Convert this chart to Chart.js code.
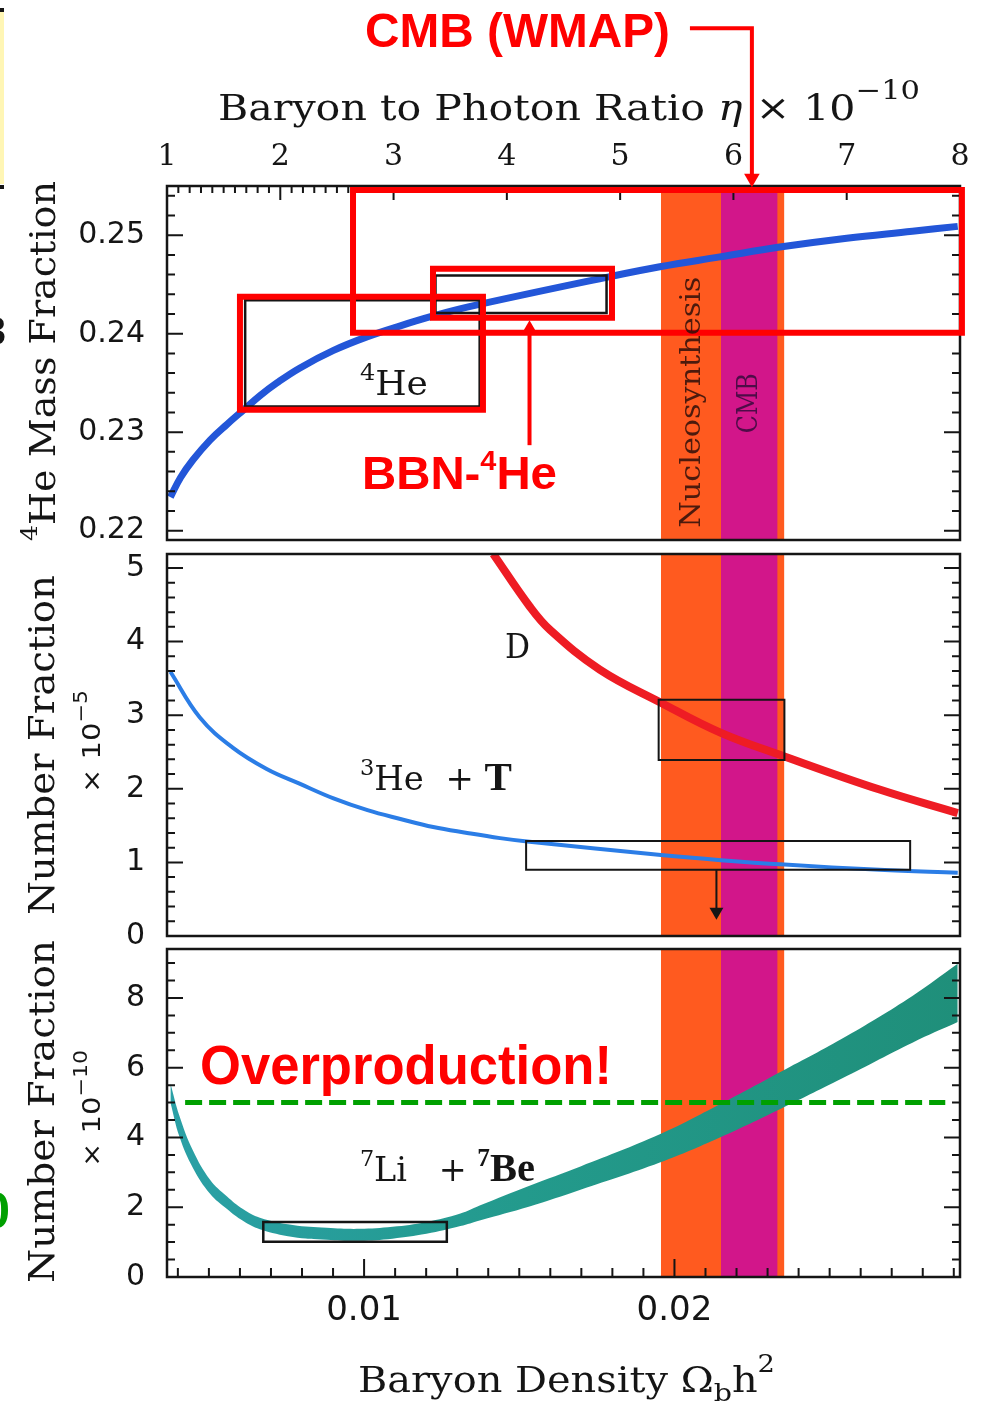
<!DOCTYPE html>
<html>
<head>
<meta charset="utf-8">
<title>BBN abundances</title>
<script src="https://cdn.jsdelivr.net/npm/chart.js@4.4.1/dist/chart.umd.min.js"></script>
<style>
  html, body { margin: 0; padding: 0; background: #fff; }
  #wrap { position: relative; width: 983px; height: 1403px; overflow: hidden; }
  #wrap canvas { position: absolute; left: 0; top: 0; }
</style>
</head>
<body>
<div id="wrap">
  <canvas id="he4-chart" width="983" height="1403"></canvas>
  <canvas id="dhe3-chart" width="983" height="1403"></canvas>
  <canvas id="li7-chart" width="983" height="1403"></canvas>
</div>
<script>
"use strict";

// top axis: baryon to photon ratio eta (x 1e-10), bottom axis: Omega_b h^2
var etaMin = 1, etaMax = 8;
var omegaMin = 0.00365, omegaMax = 0.0292;
var etaTicks = [1, 2, 3, 4, 5, 6, 7, 8];
var omegaTicks = [0.01, 0.02];

// 4He mass fraction
var he4Eta = [1.03, 1.12, 1.23, 1.38, 1.53, 1.68, 1.82, 1.97, 2.17, 2.47, 2.77, 3.06, 3.35, 3.65, 4.91, 5.35, 5.88, 6.41, 7.00, 7.58, 7.98];
var he4Val = [0.2234, 0.2254, 0.2272, 0.2292, 0.2308, 0.2323, 0.2337, 0.2350, 0.2365, 0.2383, 0.2397, 0.2408, 0.2418, 0.2427, 0.2458, 0.2468, 0.2478, 0.2488, 0.2497, 0.2504, 0.2509];
var he4Min = 0.21905, he4Max = 0.2550;
var he4Ticks = [0.22, 0.23, 0.24, 0.25];

// D and 3He+T number fraction (x 1e-5)
var dEta = [3.88, 4.20, 4.38, 4.82, 5.36, 5.89, 6.45, 7.29, 7.98];
var dVal = [5.19, 4.48, 4.16, 3.62, 3.17, 2.76, 2.44, 1.99, 1.67];
var he3Eta = [1.03, 1.29, 1.58, 1.88, 2.17, 2.47, 2.77, 3.06, 3.35, 3.65, 3.94, 4.20, 5.36, 5.89, 6.45, 7.29, 7.98];
var he3Val = [3.59, 2.97, 2.56, 2.27, 2.07, 1.87, 1.71, 1.59, 1.48, 1.40, 1.33, 1.28, 1.10, 1.03, 0.97, 0.90, 0.86];
var nfMin = 0, nfMax = 5.19;
var nfTicks = [0, 1, 2, 3, 4, 5];

// 7Li + 7Be band (x 1e-10), upper and lower edge
var liEta = [1.03, 1.11, 1.23, 1.38, 1.53, 1.67, 1.82, 2.11, 2.41, 2.70, 2.99, 3.29, 3.59, 3.76, 4.20, 4.65, 5.35, 5.88, 6.41, 7.00, 7.58, 7.98];
var liHigh = [5.55, 4.62, 3.62, 2.79, 2.31, 1.95, 1.70, 1.49, 1.41, 1.38, 1.44, 1.58, 1.82, 2.05, 2.62, 3.17, 4.09, 4.95, 5.87, 6.91, 8.06, 8.98];
var liLow = [5.00, 4.02, 3.12, 2.39, 1.95, 1.61, 1.37, 1.15, 1.07, 1.04, 1.10, 1.24, 1.46, 1.62, 2.02, 2.50, 3.28, 4.00, 4.81, 5.76, 6.72, 7.31];
var liMin = 0, liMax = 9.405;
var liTicks = [0, 2, 4, 6, 8];
var liLimit = 5.0, liLimitEta = [1.16, 7.87];

// vertical bands (eta range)
var nucleoBand = [5.36, 6.45];
var cmbBand = [5.89, 6.39];

// observation boxes [eta0, eta1, y0, y1]
var he4BoxA = [1.69, 3.76, 0.2326, 0.2434];
var he4BoxB = [3.37, 4.88, 0.2421, 0.2459];
var dBox = [5.34, 6.45, 2.39, 3.21];
var he3Box = [4.17, 7.56, 0.90, 1.29];
var he3Arrow = [5.85, 0.90, 0.33];
var liBox = [1.85, 3.47, 1.01, 1.58];

// red annotations on the top panel
var redBoxWide = [2.642, 8.017, 0.24009, 0.2546];
var redBoxMid = [3.348, 4.928, 0.24162, 0.2466];
var redBoxLow = [1.644, 3.789, 0.23227, 0.24375];
var bbnArrow = [4.20, 0.22868, 0.2401, 0.24046];
var cmbArrowX = [5.616, 6.163], cmbArrowY = [0.27102, 0.2561, 0.25579];

var SERIF = "'DejaVu Serif', serif";
var SANS = "'DejaVu Sans', sans-serif";
var TIMES = "'Liberation Serif', serif";
var ARIAL = "'Liberation Sans', Arial, sans-serif";
var INK = '#151515';
var RED = '#FF0000';
var ORANGE = '#FF5A1F';
var MAGENTA = '#D2168A';
var SMOOTH = 0.4;

Chart.defaults.font.family = SANS;
Chart.defaults.color = INK;

function f(size, family, style) {
    return (style ? style + ' ' : '') + size + 'px ' + family;
}

function xy(xs, ys) {
    return xs.map(function (x, i) { return { x: x, y: ys[i] }; });
}

function boxPath(b) {
    return [{ x: b[0], y: b[2] }, { x: b[1], y: b[2] }, { x: b[1], y: b[3] }, { x: b[0], y: b[3] }, { x: b[0], y: b[2] }];
}

function lineSet(data, color, width, extra) {
    var ds = { data: data, borderColor: color, borderWidth: width, pointRadius: 0, fill: false, tension: 0 };
    for (var k in extra) ds[k] = extra[k];
    return ds;
}

function boxSet(b, color, width, extra) {
    var ds = lineSet(boxPath(b), color, width, { borderJoinStyle: 'miter', borderCapStyle: 'square' });
    for (var k in extra) ds[k] = extra[k];
    return ds;
}

function bandSet(range, top, color, order) {
    return lineSet([{ x: range[0], y: top }, { x: range[1], y: top }], color, 0,
        { fill: 'start', backgroundColor: color, order: order });
}

function headSet(x, y, rot, color, r) {
    return { data: [{ x: x, y: y }], showLine: false, pointStyle: 'triangle', pointRadius: r,
        pointRotation: rot, pointBackgroundColor: color, pointBorderWidth: 0, clip: false, order: -2 };
}

function fixedTicks(list) {
    return function (s) { s.ticks = list.map(function (v) { return { value: v }; }); };
}

// text made of pieces (superscripts, mixed fonts), squeezed to a given width
function drawRich(ctx, parts, o) {
    ctx.save();
    ctx.fillStyle = o.color || INK;
    ctx.textAlign = 'left';
    ctx.textBaseline = 'alphabetic';
    var total = 0, ws = [];
    parts.forEach(function (p) {
        ctx.font = p[1];
        var w = ctx.measureText(p[0]).width;
        ws.push(w);
        total += w;
    });
    ctx.translate(o.x, o.y);
    if (o.rotate) ctx.rotate(o.rotate);
    ctx.scale(o.width ? o.width / total : 1, 1);
    var cx = o.align === 'center' ? -total / 2 : 0;
    parts.forEach(function (p, i) {
        ctx.font = p[1];
        ctx.fillText(p[0], cx, p[2] || 0);
        cx += ws[i];
    });
    ctx.restore();
}

function tickValues(min, max, step) {
    var out = [];
    for (var n = Math.ceil(min / step - 1e-6); n <= Math.floor(max / step + 1e-6); n++) out.push(n * step);
    return out;
}

function isMajor(v, major) {
    var r = v / major;
    return Math.abs(r - Math.round(r)) < 1e-6;
}

function drawFrame(chart, opts) {
    var a = chart.chartArea, ctx = chart.ctx;
    ctx.save();
    ctx.strokeStyle = INK;
    ctx.lineWidth = 2;
    ctx.beginPath();
    var ys = chart.scales[opts.y.id];
    tickValues(ys.min, ys.max, opts.y.minor).forEach(function (v) {
        var p = ys.getPixelForValue(v);
        var len = isMajor(v, opts.y.major) ? 16 : 8;
        ctx.moveTo(a.left, p); ctx.lineTo(a.left + len, p);
        ctx.moveTo(a.right, p); ctx.lineTo(a.right - len, p);
    });
    ['top', 'bottom'].forEach(function (side) {
        var o = opts[side];
        if (!o) return;
        var xs = chart.scales[o.id];
        var y0 = side === 'top' ? a.top : a.bottom, dir = side === 'top' ? 1 : -1;
        tickValues(xs.min, xs.max, o.minor).forEach(function (v) {
            var p = xs.getPixelForValue(v);
            var len = isMajor(v, o.major) ? o.long : o.short;
            ctx.moveTo(p, y0); ctx.lineTo(p, y0 + dir * len);
        });
    });
    ctx.stroke();
    ctx.lineWidth = 2.5;
    ctx.strokeRect(a.left, a.top, a.right - a.left, a.bottom - a.top);
    ctx.restore();
}

// frame + inward ticks, drawn under the red annotations
var framePlugin = {
    id: 'frame',
    beforeDatasetsDraw: function (chart) { chart.$frameDone = false; },
    beforeDatasetDraw: function (chart, args, opts) {
        if (!chart.$frameDone && args.meta.order < 0) {
            drawFrame(chart, opts);
            chart.$frameDone = true;
        }
    },
    afterDatasetsDraw: function (chart, args, opts) {
        if (!chart.$frameDone) drawFrame(chart, opts);
    }
};

function baseOptions(padding, scales, frame) {
    return {
        responsive: false,
        animation: false,
        devicePixelRatio: 1,
        events: [],
        layout: { padding: padding },
        plugins: { legend: { display: false }, tooltip: { enabled: false }, frame: frame },
        scales: scales
    };
}

function hiddenEta() {
    return { type: 'linear', min: etaMin, max: etaMax, display: false };
}

function yAxis(min, max, list, fmt) {
    return {
        type: 'linear', position: 'left', min: min, max: max,
        afterBuildTicks: fixedTicks(list),
        afterFit: function (s) { s.width = 167; },
        grid: { display: false, drawTicks: false },
        border: { display: false },
        ticks: { font: { family: SANS, size: 30 }, color: INK, padding: 22, callback: fmt }
    };
}

//start 4He panel
new Chart(document.getElementById('he4-chart'), {
    type: 'line',
    data: {
        datasets: [
            boxSet(redBoxWide, RED, 6, { order: -1, clip: false }),
            boxSet(redBoxMid, RED, 6, { order: -1, clip: false }),
            boxSet(redBoxLow, RED, 6, { order: -1, clip: false }),
            lineSet([{ x: bbnArrow[0], y: bbnArrow[1] }, { x: bbnArrow[0], y: bbnArrow[2] }], RED, 4, { order: -1, clip: false }),
            headSet(bbnArrow[0], bbnArrow[3], 0, RED, 9),
            lineSet([{ x: cmbArrowX[0], y: cmbArrowY[0] }, { x: cmbArrowX[1], y: cmbArrowY[0] }, { x: cmbArrowX[1], y: cmbArrowY[1] }],
                RED, 4, { order: -1, clip: false, borderJoinStyle: 'miter' }),
            headSet(cmbArrowX[1], cmbArrowY[2], 180, RED, 9),
            boxSet(he4BoxA, INK, 2.5, { order: 1 }),
            boxSet(he4BoxB, INK, 2.5, { order: 1 }),
            lineSet(xy(he4Eta, he4Val), '#2356D8', 7, { tension: SMOOTH, order: 2 }),
            bandSet(cmbBand, he4Max, MAGENTA, 9),
            bandSet(nucleoBand, he4Max, ORANGE, 10)
        ]
    },
    options: baseOptions({ top: 126, right: 23, bottom: 863, left: 0 }, {
        x: {
            type: 'linear', position: 'top', min: etaMin, max: etaMax,
            afterBuildTicks: fixedTicks(etaTicks),
            afterFit: function (s) { s.height = 60; },
            grid: { display: false, drawTicks: false },
            border: { display: false },
            ticks: { font: { family: SERIF, size: 30 }, color: INK, padding: 11, maxRotation: 0 }
        },
        y: yAxis(he4Min, he4Max, he4Ticks, function (v) { return v.toFixed(2); })
    }, {
        y: { id: 'y', minor: 0.002, major: 0.01 },
        top: { id: 'x', minor: 0.1, major: 1, long: 14, short: 7 }
    }),
    plugins: [framePlugin, {
        id: 'he4Text',
        afterDraw: function (chart) {
            var ctx = chart.ctx, sx = chart.scales.x, sy = chart.scales.y;
            var px = function (v) { return sx.getPixelForValue(v); };
            var py = function (v) { return sy.getPixelForValue(v); };
            drawRich(ctx, [['Baryon to Photon Ratio ', f(35, SERIF)], ['η', f(35, SERIF, 'italic')],
                [' × 10', f(35, SERIF)], ['−10', f(26, SERIF), -21]], { x: 218, y: 120, width: 702 });
            drawRich(ctx, [['4', f(23, SERIF), -18], ['He Mass Fraction', f(35, SERIF)]],
                { x: 55, y: 541, rotate: -Math.PI / 2, width: 360 });
            drawRich(ctx, [['4', f(22, SERIF), -15], ['He', f(33, SERIF)]], { x: px(2.703), y: py(0.23376), width: 68 });
            drawRich(ctx, [['Nucleosynthesis', f(28, SERIF)]],
                { x: px(5.704), y: py(0.23305), rotate: -Math.PI / 2, align: 'center', width: 251, color: 'rgba(45,15,10,0.85)' });
            drawRich(ctx, [['CMB', f(28, SERIF)]],
                { x: px(6.207), y: py(0.23294), rotate: -Math.PI / 2, align: 'center', width: 60, color: 'rgba(55,10,60,0.85)' });
            drawRich(ctx, [['CMB (WMAP)', f(48, ARIAL, 'bold')]], { x: px(2.748), y: py(0.26909), width: 305, color: RED });
            drawRich(ctx, [['BBN-', f(46, ARIAL, 'bold')], ['4', f(28, ARIAL, 'bold'), -19], ['He', f(46, ARIAL, 'bold')]],
                { x: px(2.721), y: py(0.22421), width: 195, color: RED });
            // cropped slide remains on the left edge
            ctx.save();
            ctx.fillStyle = '#FFF6B5';
            ctx.fillRect(0, 12, 4, 172);
            ctx.fillStyle = INK;
            ctx.fillRect(0, 8, 4, 4);
            ctx.fillRect(0, 185, 4, 4);
            ctx.font = f(40, ARIAL, 'bold');
            ctx.textAlign = 'right';
            ctx.fillText('3', 6, 345);
            ctx.restore();
        }
    }]
});
//end 4He panel

//start D / 3He panel
new Chart(document.getElementById('dhe3-chart'), {
    type: 'line',
    data: {
        datasets: [
            lineSet([{ x: he3Arrow[0], y: he3Arrow[1] }, { x: he3Arrow[0], y: he3Arrow[2] }], INK, 2, { order: 0 }),
            headSet(he3Arrow[0], he3Arrow[2], 180, INK, 8),
            boxSet(dBox, INK, 2, { order: 1 }),
            boxSet(he3Box, INK, 2, { order: 1 }),
            lineSet(xy(dEta, dVal), '#EE1C24', 8, { tension: SMOOTH, order: 2 }),
            lineSet(xy(he3Eta, he3Val), '#2B7DE6', 4, { tension: SMOOTH, order: 2 }),
            bandSet(cmbBand, nfMax, MAGENTA, 9),
            bandSet(nucleoBand, nfMax, ORANGE, 10)
        ]
    },
    options: baseOptions({ top: 554, right: 23, bottom: 467, left: 0 }, {
        x: hiddenEta(),
        y: yAxis(nfMin, nfMax, nfTicks, function (v) { return String(v); })
    }, {
        y: { id: 'y', minor: 0.2, major: 1 }
    }),
    plugins: [framePlugin, {
        id: 'dText',
        afterDraw: function (chart) {
            var ctx = chart.ctx, sx = chart.scales.x, sy = chart.scales.y;
            var px = function (v) { return sx.getPixelForValue(v); };
            var py = function (v) { return sy.getPixelForValue(v); };
            drawRich(ctx, [['Number Fraction', f(35, SERIF)]], { x: 54, y: 915, rotate: -Math.PI / 2, width: 340 });
            drawRich(ctx, [['× 10', f(25, SANS)], ['−5', f(19, SANS), -13]], { x: 100, y: 793, rotate: -Math.PI / 2, width: 103 });
            drawRich(ctx, [['D', f(33, SERIF)]], { x: px(3.983), y: py(3.782), width: 25 });
            drawRich(ctx, [['3', f(22, SERIF), -15], ['He', f(33, SERIF)], ['  + ', f(33, SERIF)], ['T', f(40, TIMES, 'bold')]],
                { x: px(2.703), y: py(1.986), width: 152 });
        }
    }]
});
//end D / 3He panel

//start 7Li panel
new Chart(document.getElementById('li7-chart'), {
    type: 'line',
    data: {
        datasets: [
            lineSet([{ x: liLimitEta[0], y: liLimit }, { x: liLimitEta[1], y: liLimit }], '#00A000', 5,
                { borderDash: [17, 7], order: -1 }),
            boxSet(liBox, INK, 2.5, { order: 1 }),
            lineSet(xy(liEta, liHigh), 'rgba(0,0,0,0)', 0, {
                tension: SMOOTH, order: 2, fill: '+1',
                backgroundColor: function (c) {
                    var a = c.chart.chartArea;
                    if (!a) return '#22988C';
                    var g = c.chart.ctx.createLinearGradient(a.left, 0, a.right, 0);
                    g.addColorStop(0, '#2AA0A6');
                    g.addColorStop(0.45, '#239A8C');
                    g.addColorStop(1, '#1F8F7A');
                    return g;
                }
            }),
            lineSet(xy(liEta, liLow), 'rgba(0,0,0,0)', 0, { tension: SMOOTH, order: 2 }),
            bandSet(cmbBand, liMax, MAGENTA, 9),
            bandSet(nucleoBand, liMax, ORANGE, 10)
        ]
    },
    options: baseOptions({ top: 949, right: 23, bottom: 66, left: 0 }, {
        x: hiddenEta(),
        xo: {
            type: 'linear', position: 'bottom', min: omegaMin, max: omegaMax,
            afterBuildTicks: fixedTicks(omegaTicks),
            afterFit: function (s) { s.height = 60; },
            grid: { display: false, drawTicks: false },
            border: { display: false },
            ticks: { font: { family: SANS, size: 34 }, color: INK, padding: 14, maxRotation: 0,
                callback: function (v) { return v.toFixed(2); } }
        },
        y: yAxis(liMin, liMax, liTicks, function (v) { return String(v); })
    }, {
        y: { id: 'y', minor: 0.5, major: 2 },
        bottom: { id: 'xo', minor: 0.001, major: 0.01, long: 18, short: 9 }
    }),
    plugins: [framePlugin, {
        id: 'liText',
        afterDraw: function (chart) {
            var ctx = chart.ctx, sx = chart.scales.x, sy = chart.scales.y;
            var px = function (v) { return sx.getPixelForValue(v); };
            var py = function (v) { return sy.getPixelForValue(v); };
            drawRich(ctx, [['Number Fraction', f(35, SERIF)]], { x: 54, y: 1283, rotate: -Math.PI / 2, width: 343 });
            drawRich(ctx, [['× 10', f(25, SANS)], ['−10', f(19, SANS), -13]], { x: 100, y: 1167, rotate: -Math.PI / 2, width: 117 });
            drawRich(ctx, [['Baryon Density Ω', f(35, SERIF)], ['b', f(25, SERIF), 9], ['h', f(35, SERIF)], ['2', f(24, SERIF), -20]],
                { x: 358, y: 1392, width: 417 });
            drawRich(ctx, [['7', f(22, SERIF), -15], ['Li', f(33, SERIF)], ['   + ', f(33, SERIF)],
                ['7', f(25, TIMES, 'bold'), -15], ['Be', f(40, TIMES, 'bold')]], { x: px(2.703), y: py(2.763), width: 175 });
            drawRich(ctx, [['Overproduction!', f(55, ARIAL, 'bold')]], { x: px(1.291), y: py(5.525), width: 412, color: RED });
            ctx.save();
            ctx.fillStyle = '#00A000';
            ctx.font = f(50, ARIAL, 'bold');
            ctx.textAlign = 'right';
            ctx.fillText('0', 10, 1228);
            ctx.restore();
        }
    }]
});
//end 7Li panel
</script>
</body>
</html>
